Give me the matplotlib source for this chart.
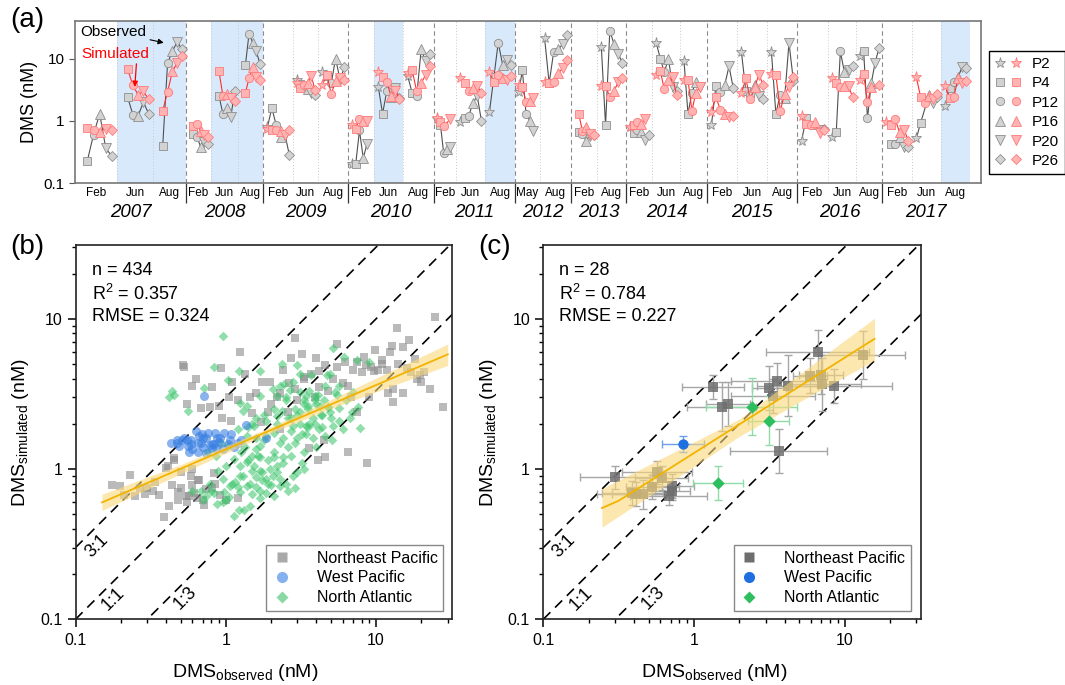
import numpy as np
import matplotlib
matplotlib.use('Agg')
import matplotlib.pyplot as plt
import matplotlib.transforms as mtransforms
from matplotlib.lines import Line2D
from matplotlib.legend_handler import HandlerTuple
from matplotlib.ticker import FixedLocator, FixedFormatter, LogLocator, NullFormatter, NullLocator

plt.rcParams['font.family'] = ['Liberation Sans', 'DejaVu Sans']
plt.rcParams['mathtext.fontset'] = 'custom'
plt.rcParams['mathtext.rm'] = 'Liberation Sans'
plt.rcParams['mathtext.it'] = 'Liberation Sans:italic'

nan = np.nan

# ---------------- (a) time series at stations ----------------
stations = ['P2', 'P4', 'P12', 'P16', 'P20', 'P26']
cruise_year = [2007] * 3 + [2008] * 3 + [2009] * 3 + [2010] * 3 + [2011] * 3 + \
              [2012] * 2 + [2013] * 2 + [2014] * 3 + [2015] * 3 + [2016] * 3 + [2017] * 3
cruise_month = ['Feb', 'Jun', 'Aug', 'Feb', 'Jun', 'Aug', 'Feb', 'Jun', 'Aug',
                'Feb', 'Jun', 'Aug', 'Feb', 'Jun', 'Aug', 'May', 'Aug', 'Feb', 'Aug',
                'Feb', 'Jun', 'Aug', 'Feb', 'Jun', 'Aug', 'Feb', 'Jun', 'Aug',
                'Feb', 'Jun', 'Aug']
bloom_cruises = [1, 2, 4, 5, 10, 14, 30]

# observed DMS (nM), columns = stations
obs_a = [
    [nan, 0.23, 0.6, 1.3, 0.36, 0.27],
    [nan, 2.4, 1.25, 1.2, 2.0, 1.3],
    [nan, 0.4, 8.4, 13, 18.6, 14],
    [nan, 0.62, 0.55, 0.38, 0.45, 0.42],
    [nan, 2.5, 1.3, 1.6, 1.15, 3.0],
    [nan, 7.8, 25, 18, 13, 8.2],
    [0.8, 1.6, 0.85, 0.55, 0.6, 0.28],
    [4.5, 3.9, 3.5, 3.2, 2.8, 2.6],
    [6.0, 5.2, 4.0, 10, 4.6, 7.2],
    [0.2, 0.2, 0.7, 0.25, 0.43, nan],
    [3.5, 1.3, 3.0, 2.4, 3.4, 2.3],
    [5.3, 2.8, 2.5, 14, 9, 12],
    [1.05, 0.85, 0.3, 0.35, 0.38, nan],
    [0.95, 1.1, 1.2, 1.95, 2.5, 0.98],
    [1.4, 5.0, 18, 8, 9.6, 8.0],
    [2.9, 6.5, 1.3, 1.0, 0.68, nan],
    [21, 4.0, 12.8, 14, 17, 24],
    [nan, 0.65, 0.62, 0.48, 0.58, 0.6],
    [15.5, 0.84, 28, 17, 12, 8.4],
    [0.78, 0.63, 0.7, 0.65, 0.5, 0.6],
    [18, 10, 6, 10, 3.5, 3.0],
    [9, 1.3, 2.8, 4.2, 3.5, nan],
    [0.86, 3.6, 2.9, 3.7, 7.5, 3.3],
    [12.5, 3.0, 2.6, 3.8, 2.5, 2.2],
    [12.5, 1.3, 2.6, 2.3, 18, 4.4],
    [0.48, 1.1, 0.85, 0.9, 0.7, 0.75],
    [0.54, 0.66, 13, 6, 6.5, 7.5],
    [11, 13, 1.1, 4, 8.5, 14.5],
    [nan, 0.42, 0.42, 0.55, 0.38, 0.38],
    [0.52, 0.92, nan, 2.6, 1.9, 2.4],
    [1.7, 3.3, 4.2, 5.0, 7.4, 7.0],
]
# simulated DMS (nM)
sim_a = [
    [nan, 0.76, 0.72, 0.67, 0.75, 0.7],
    [nan, 6.8, 3.7, 2.6, 3.0, 2.2],
    [nan, 1.45, 2.9, 6.2, 8.5, 10.8],
    [nan, 0.82, 0.88, 0.68, 0.6, 0.55],
    [nan, 6.3, 2.5, 2.7, 2.3, 2.1],
    [nan, 2.8, 4.8, 7.2, 5.0, 4.5],
    [0.75, 0.7, 0.7, 0.68, 0.6, 0.7],
    [4.0, 3.3, 3.8, 4.0, 5.3, 3.1],
    [3.8, 5.5, 2.7, 4.3, 4.8, 4.5],
    [0.86, 0.75, 1.05, 1.0, 1.0, nan],
    [6.1, 5.0, 4.2, 2.5, 3.0, 2.2],
    [5.8, 6.5, 3.0, 4.0, 5.5, 7.5],
    [1.1, 0.95, 0.83, nan, 1.05, nan],
    [4.8, 4.0, 3.0, 3.4, 3.6, 2.8],
    [6.0, 4.25, 5.4, 4.8, 4.5, 5.3],
    [3.7, 3.5, 2.0, 2.1, 2.3, nan],
    [4.2, 4.0, 4.2, 5.8, 7.0, 9.5],
    [nan, 1.3, 0.68, 0.78, 0.62, 0.6],
    [3.6, 3.6, 2.45, 3.0, 4.2, 4.8],
    [0.78, 0.85, 0.95, 0.9, 1.05, nan],
    [5.5, 6.3, 3.2, 4.5, 5.0, 2.6],
    [4.6, 4.6, 1.45, 2.8, 3.5, nan],
    [1.4, 2.45, 1.5, 1.3, 1.15, 1.2],
    [2.8, 4.8, 2.2, 3.5, 5.5, 3.7],
    [5.6, 5.5, 1.45, 2.7, 3.5, 5.0],
    [1.2, 0.9, 0.85, 0.95, 0.63, 0.7],
    [4.9, 4.0, 3.5, 3.6, 3.6, 2.4],
    [4.5, 5.7, 2.0, 3.5, nan, 3.7],
    [0.95, 0.85, 1.05, 0.65, 0.72, 0.48],
    [5.0, 2.45, 1.9, 2.5, 2.2, 2.7],
    [3.6, 2.3, 2.4, 4.8, 4.0, 4.3],
]

# ---------------- (b) all model-observation pairs ----------------
ne_obs_b = [24.5, 13.7, 16.6, 12.7, 9.9, 12.4, 18.2, 11.8, 9.7, 10.3, 16, 19.7, 18.6, 13, 15, 13, 27.7,
            8.7, 2.9, 1.24, 2.7, 4.0, 5.5, 4.6, 7.5, 8.6, 0.52, 0.53, 0.93, 0.63, 0.81, 1.1, 1.35,
            1.75, 1.97, 2.65, 3.7, 4.2, 6.0, 6.5, 4.2, 0.68, 0.9, 1.08, 1.5, 1.72, 2.0, 2.6, 7.5,
            3.6, 4.1, 4.6, 0.175, 0.198, 0.23, 0.25, 0.21, 0.29, 0.36, 0.40, 0.41, 0.45, 0.44,
            0.42, 0.39, 0.59, 0.6, 0.61, 0.57, 0.54, 0.64, 0.71, 0.74, 0.81, 0.92, 0.83, 0.6,
            0.45, 1.2, 0.33, 0.27, 5.2, 3.3, 2.3, 11, 21, 6.8, 8.0, 0.5, 0.66, 0.48, 1.45, 3.0,
            2.2, 2.9, 3.3, 3.9, 4.8, 5.5, 6.2, 7.0, 8.3, 9.3, 11, 14, 17, 20, 23, 1.2, 1.6, 2.4,
            3.2, 0.95, 0.78, 0.6, 0.55, 1.05, 1.9, 2.3, 0.3, 0.34, 0.5, 0.55, 0.48, 0.65, 0.72,
            0.85, 1.0, 6.5, 4.5, 9.0, 12, 15]
ne_sim_b = [10.3, 8.7, 7.2, 6.6, 6.2, 6.0, 5.4, 4.6, 4.5, 4.6, 4.7, 4.2, 4.0, 3.4, 3.2, 2.8, 2.6,
            1.09, 7.4, 6.0, 5.5, 5.5, 6.8, 4.9, 5.2, 4.9, 4.9, 4.8, 4.7, 4.0, 3.5, 3.8, 4.3,
            3.8, 3.8, 3.75, 4.3, 4.5, 3.75, 3.6, 3.5, 2.55, 2.64, 2.1, 2.35, 2.05, 2.7, 2.4, 2.4,
            1.39, 1.15, 1.2, 0.78, 0.77, 0.92, 0.66, 0.67, 0.68, 0.67, 1.02, 1.05, 1.15, 0.78,
            0.57, 0.48, 0.9, 0.78, 0.69, 0.66, 0.66, 0.64, 0.62, 0.74, 0.75, 0.67, 0.94, 1.0,
            1.18, 0.64, 0.72, 0.75, 4.0, 4.1, 3.2, 5.0, 4.4, 3.0, 4.4, 0.95, 0.85, 0.62, 3.0, 2.9,
            3.0, 3.4, 4.0, 3.0, 3.3, 4.8, 5.2, 4.6, 5.6, 4.8, 5.3, 5.0, 4.4, 3.8, 3.4, 2.9, 3.2, 4.6,
            5.8, 2.2, 2.6, 3.6, 2.7, 3.0, 2.4, 1.85, 0.75, 0.82, 0.75, 0.6, 0.7, 0.85, 0.58,
            0.8, 0.62, 1.3, 1.55, 3.0, 3.2, 6.5]

wp_obs_b = [0.43, 0.47, 0.51, 0.56, 0.59, 0.63, 0.66, 0.68, 0.71, 0.74, 0.76, 0.81, 0.85, 0.86,
            0.92, 0.98, 1.03, 1.07, 1.13, 1.2, 1.27, 0.65, 0.6, 0.57, 0.74, 0.81, 0.7, 0.87, 0.96,
            1.08, 0.49, 0.55, 0.78, 0.72, 1.36, 1.85, 0.65, 0.83, 0.59, 0.47, 0.53, 0.69, 0.9]
wp_sim_b = [1.49, 1.48, 1.55, 1.43, 1.57, 1.8, 1.67, 1.5, 1.4, 1.6, 1.75, 1.47, 1.75, 1.38,
            1.6, 1.75, 1.47, 1.55, 1.4, 1.5, 1.55, 1.3, 1.35, 1.3, 1.27, 1.38, 1.6, 1.6, 1.35,
            1.72, 1.42, 1.57, 1.45, 3.05, 1.97, 1.6, 1.5, 1.47, 1.46, 1.57, 1.62, 1.7, 1.52]

na_obs_b = [0.96, 0.44, 0.42, 0.45, 0.56, 0.72, 0.83, 1.03, 1.22, 1.68, 2.35, 3.0, 5.2, 6.1, 7.5,
            9.0, 4.9, 5.3, 4.7, 5.7, 6.9, 7.8, 7.6, 7.0, 1.69, 2.2, 1.38, 1.3, 2.3, 2.8, 3.1, 3.4,
            3.9, 3.5, 3.8, 3.1, 2.7, 2.8, 3.4, 4.2, 5.2, 3.8, 4.6, 3.0, 2.3, 1.85, 1.69, 2.1, 2.7,
            3.0, 2.9, 2.3, 1.97, 1.69, 1.5, 1.38, 1.27, 1.13, 1.0, 0.89, 0.96, 1.07, 1.2, 1.38,
            1.6, 1.85, 1.69, 1.45, 1.33, 1.14, 1.22, 2.1, 2.3, 1.5, 1.85, 2.2, 0.87, 0.96, 0.74,
            0.68, 0.83, 0.76, 0.93, 1.03, 0.86, 2.2, 1.85, 1.55, 1.38, 1.65, 4.6, 5.7, 6.0, 4.24,
            3.9, 3.3, 2.35, 3.4, 3.3, 5.1, 4.9, 5.7, 6.7, 3.7, 3.1, 2.68, 1.25, 2.5, 3.6, 4.4,
            1.1, 1.25, 1.75, 2.0, 2.6, 3.2, 4.0, 1.4, 1.6, 2.4, 0.8, 1.0, 4.8, 2.05, 2.45,
            1.15, 1.3, 1.45, 1.6, 1.75, 1.9, 2.05, 2.2, 1.25, 1.4, 1.55, 1.7, 1.9, 2.1, 2.4, 2.6,
            2.9, 3.2, 3.5, 3.9, 4.3, 4.8, 3.1, 2.7, 2.4, 2.1, 1.8, 1.6, 1.35, 2.9, 3.3, 3.6, 4.1,
            4.5, 5.5, 6.3, 2.5, 2.1, 1.8, 1.5, 1.2, 1.05, 0.98, 1.25, 1.5, 1.7, 2.5, 2.8, 3.3,
            0.6, 0.7, 0.78, 1.6, 2.2, 2.6, 3.0, 3.5, 4.0, 4.4, 5.0]
na_sim_b = [7.7, 3.3, 3.0, 3.1, 2.45, 3.45, 4.8, 3.9, 4.5, 4.5, 5.0, 4.9, 6.4, 5.6, 5.3,
            5.2, 4.3, 3.25, 4.2, 3.6, 2.4, 1.88, 2.6, 3.25, 3.08, 3.08, 2.64, 2.45, 3.59, 3.8, 3.25, 3.08,
            3.08, 2.64, 2.2, 2.4, 2.2, 1.94, 1.94, 1.85, 1.94, 1.6, 1.67, 1.6, 1.5, 1.67, 1.43, 1.3, 1.23,
            0.95, 0.75, 0.86, 1.0, 0.97, 1.23, 1.12, 1.3, 1.17, 1.05, 0.97, 0.86, 0.77, 0.76, 0.77,
            0.76, 0.69, 0.64, 0.57, 0.53, 0.49, 0.53, 0.66, 0.77, 0.97, 0.86, 0.95, 0.59, 0.6, 0.66,
            0.72, 0.69, 1.3, 1.5, 1.42, 1.23, 2.27, 2.1, 1.94, 1.67, 1.23, 3.59, 2.55, 1.85, 2.64,
            2.9, 2.7, 2.45, 1.7, 1.3, 1.55, 2.4, 2.1, 2.2, 4.2, 4.3, 3.35, 2.75, 2.9, 2.0, 2.3,
            0.8, 0.9, 0.85, 0.78, 0.72, 1.1, 1.4, 1.9, 2.2, 1.2, 0.72, 0.62, 2.6, 3.4, 3.7,
            0.82, 0.9, 0.8, 0.88, 0.95, 0.8, 0.9, 1.05, 1.05, 1.15, 1.05, 1.2, 1.15, 1.2, 1.1, 1.4,
            1.5, 1.7, 1.9, 2.0, 2.3, 2.6, 2.0, 1.8, 1.6, 1.75, 1.55, 1.35, 1.4, 2.5, 2.9, 3.3, 3.1,
            2.9, 3.1, 2.9, 3.0, 2.5, 2.3, 2.0, 1.85, 0.65, 0.7, 0.7, 0.68, 0.72, 0.8, 0.9, 1.0,
            0.72, 0.62, 0.8, 1.6, 2.0, 2.2, 2.3, 2.5, 2.7, 1.9, 2.2]

fit_b_x = [0.15, 30]
fit_b_y = [0.6, 5.8]
band_b_x = [0.15, 0.5, 1.7, 5, 30]
band_b_lo = [0.53, 0.93, 1.63, 2.53, 4.9]
band_b_hi = [0.68, 1.07, 1.78, 2.9, 6.8]

# ---------------- (c) cruise-mean pairs with spread ----------------
ne_obs_c = [0.30, 0.41, 0.46, 0.53, 0.57, 0.61, 0.68, 0.71, 0.72, 1.34, 1.53, 1.69, 3.16, 3.33,
            3.54, 3.65, 4.19, 5.9, 6.64, 6.99, 7.1, 8.57, 13.2, 0.39]
ne_sim_c = [0.88, 0.68, 0.68, 0.76, 0.95, 0.875, 0.66, 0.77, 0.72, 3.5, 2.6, 2.7, 3.45, 3.05,
            3.88, 1.32, 3.6, 4.19, 6.0, 4.24, 3.67, 3.56, 5.75, 0.69]
ne_xf = [1.7, 1.8, 1.6, 1.5, 1.7, 1.5, 1.8, 1.4, 1.3, 1.6, 1.7, 1.4, 1.3, 1.9, 2.0, 2.1, 1.6,
         1.3, 2.2, 1.4, 1.8, 2.4, 1.9, 1.6]
ne_yf = [1.2, 1.2, 1.25, 1.2, 1.2, 1.2, 1.15, 1.2, 1.15, 1.2, 1.45, 1.4, 1.4, 1.3, 1.3, 1.4, 1.6,
         1.3, 1.4, 1.35, 1.5, 1.3, 1.45, 1.2]
wp_obs_c = [0.845]
wp_sim_c = [1.47]
wp_xf = [1.38]
wp_yf = [1.13]
na_obs_c = [2.42, 3.13, 1.45]
na_sim_c = [2.6, 2.1, 0.81]
na_xf = [2.0, 1.36, 1.47]
na_yf = [1.55, 1.45, 1.3]

fit_c_x = [0.245, 0.316, 15.8]
fit_c_y = [0.55, 0.615, 7.36]
band_c_x = [0.245, 0.6, 2.0, 6.0, 15.8]
band_c_lo = [0.41, 0.74, 1.65, 3.1, 5.3]
band_c_hi = [0.74, 1.17, 2.15, 4.9, 10.1]

# layout of panel (a): slot width of each cruise on the axis
slot_w = [42, 36, 33, 25, 27, 25, 30, 25, 30, 26, 29, 31, 22, 29, 30, 25, 31, 26, 29,
          26, 28, 27, 30, 30, 30, 31, 28, 26, 30, 29, 29]
end_pad = 11

markers = ['*', 's', 'o', '^', 'v', 'D']
msizes = [8, 5.5, 6, 6.5, 6.5, 5]
OBS_FACE, OBS_EDGE, OBS_LINE = '#d2d2d2', '#8e8e8e', '#505050'
SIM_FACE, SIM_EDGE, SIM_LINE = '#ffb3b3', '#ff7b7b', '#ff3030'

fig = plt.figure(figsize=(10.65, 6.85), dpi=100)

# ================= panel (a) =================
ax = fig.add_axes([0.0704, 0.7328, 0.8507, 0.2365])
starts = np.concatenate([[0], np.cumsum(slot_w)[:-1]])
total = sum(slot_w) + end_pad
offs = np.linspace(0.15, 0.88, len(stations))

for i in bloom_cruises:
    ax.axvspan(starts[i], starts[i] + slot_w[i], color='#d8e9fb', lw=0, zorder=0)

for i in range(1, len(slot_w)):
    if cruise_year[i] != cruise_year[i - 1]:
        ax.axvline(starts[i], color='#8a8a8a', ls=(0, (4, 3)), lw=0.8, zorder=1)
    else:
        ax.axvline(starts[i], color='#c8c8c8', ls=(0, (1, 2)), lw=0.7, zorder=1)

for i in range(len(slot_w)):
    xs = starts[i] + offs * slot_w[i]
    for vals, face, edge, line, z in [(obs_a[i], OBS_FACE, OBS_EDGE, OBS_LINE, 2),
                                      (sim_a[i], SIM_FACE, SIM_EDGE, SIM_LINE, 4)]:
        v = np.array(vals, dtype=float)
        m = np.isfinite(v)
        ax.plot(xs[m], v[m], color=line, lw=0.8, zorder=z)
        for k in range(len(stations)):
            if m[k]:
                ax.plot(xs[k], v[k], marker=markers[k], ms=msizes[k], mfc=face, mec=edge,
                        mew=0.6, ls='none', zorder=z + 1)

ax.set_yscale('log')
ax.set_ylim(0.1, 40)
ax.set_xlim(0, total)
ax.yaxis.set_major_locator(FixedLocator([0.1, 1, 10]))
ax.yaxis.set_major_formatter(FixedFormatter(['0.1', '1', '10']))
ax.yaxis.set_minor_locator(NullLocator())
ax.tick_params(axis='y', labelsize=11, length=4, direction='out', color='#555555')

bounds = [starts[i] for i in range(1, len(slot_w)) if cruise_year[i] != cruise_year[i - 1]]
ax.xaxis.set_major_locator(FixedLocator(bounds))
ax.xaxis.set_major_formatter(NullFormatter())
ax.tick_params(axis='x', length=14.5, width=0.9, direction='out', color='#333333')
ax.set_ylabel('DMS (nM)', fontsize=13, labelpad=4)
for sp in ax.spines.values():
    sp.set_color('#777777')
    sp.set_linewidth(1.2)

trans = mtransforms.blended_transform_factory(ax.transData, ax.transAxes)
for i in range(len(slot_w)):
    ax.text(starts[i] + slot_w[i] / 2, -0.062, cruise_month[i], transform=trans,
            ha='center', va='center', fontsize=8.5)
years = sorted(set(cruise_year))
for y in years:
    idx = [i for i in range(len(slot_w)) if cruise_year[i] == y]
    x0 = starts[idx[0]]
    x1 = starts[idx[-1]] + slot_w[idx[-1]]
    ax.text((x0 + x1) / 2, -0.18, str(y), transform=trans, ha='center', va='center',
            fontsize=13.5, style='italic')

ax.annotate('Observed', xy=(0.098, 0.866), xytext=(0.0055, 0.934), textcoords='axes fraction',
            xycoords='axes fraction', fontsize=11, color='black', va='center', ha='left',
            arrowprops=dict(arrowstyle='-|>', color='black', lw=0.8, mutation_scale=8,
                            shrinkA=1, shrinkB=0), zorder=10)
ax.annotate('Simulated', xy=(0.066, 0.593), xytext=(0.0066, 0.796), textcoords='axes fraction',
            xycoords='axes fraction', fontsize=11, color='red', va='center', ha='left',
            arrowprops=dict(arrowstyle='-|>', color='red', lw=0.9, mutation_scale=8,
                            shrinkA=0, shrinkB=0, relpos=(0.82, 0.0)), zorder=10)

handles = []
for k in range(len(stations)):
    h1 = Line2D([], [], marker=markers[k], ms=msizes[k], mfc=OBS_FACE, mec=OBS_EDGE, mew=0.6, ls='none')
    h2 = Line2D([], [], marker=markers[k], ms=msizes[k], mfc=SIM_FACE, mec=SIM_EDGE, mew=0.6, ls='none')
    handles.append((h1, h2))
leg = ax.legend(handles=handles, labels=stations, handler_map={tuple: HandlerTuple(ndivide=None, pad=0.3)},
                loc='upper left', bbox_to_anchor=(989 / 1065, 1 - 51 / 685), bbox_transform=fig.transFigure,
                fontsize=11, frameon=True, fancybox=False, edgecolor='black', framealpha=1,
                handlelength=1.7, handletextpad=0.7, labelspacing=0.35, borderpad=0.4,
                borderaxespad=0)
leg.get_frame().set_linewidth(1.0)

fig.text(10 / 1065, 1 - 20 / 685, '(a)', fontsize=20, va='center', ha='left')


# ================= panels (b) and (c) =================
def style_loglog(a):
    a.set_xscale('log')
    a.set_yscale('log')
    a.set_xlim(0.1, 32)
    a.set_ylim(0.1, 31)
    for axis in (a.xaxis, a.yaxis):
        axis.set_major_locator(FixedLocator([0.1, 1, 10]))
        axis.set_major_formatter(FixedFormatter(['0.1', '1', '10']))
        axis.set_minor_locator(LogLocator(base=10, subs=np.arange(2, 10)))
        axis.set_minor_formatter(NullFormatter())
    a.tick_params(which='major', length=6, width=1.1, direction='out', labelsize=11.5)
    a.tick_params(which='minor', length=3, width=1.0, direction='out')
    for sp in a.spines.values():
        sp.set_linewidth(1.2)
        sp.set_color('#222222')
    ref = np.array([0.1, 40])
    for f in (3, 1, 1 / 3):
        a.plot(ref, ref * f, color='black', ls=(0, (6, 4)), lw=1.2, zorder=1)
    a.text(0.138, 0.308, '3:1', rotation=45, ha='center', va='center', fontsize=13)
    a.text(0.178, 0.136, '1:1', rotation=45, ha='center', va='center', fontsize=13)
    a.text(0.536, 0.139, '1:3', rotation=45, ha='center', va='center', fontsize=13)
    a.set_xlabel(r'DMS$_{\mathrm{observed}}$ (nM)', fontsize=14)
    a.xaxis.set_label_coords(0.452, -0.115)
    a.set_ylabel(r'DMS$_{\mathrm{simulated}}$ (nM)', fontsize=14)
    a.yaxis.set_label_coords(-0.118, 0.5)


def stats_text(a, n, r2, rmse):
    a.text(0.043, 0.933, 'n = %d' % n, transform=a.transAxes, fontsize=13, va='center')
    a.text(0.043, 0.870, r'R$^{\mathrm{2}}$ = %s' % r2, transform=a.transAxes, fontsize=13, va='center')
    a.text(0.043, 0.808, 'RMSE = %s' % rmse, transform=a.transAxes, fontsize=13, va='center')


GOLD_LINE, GOLD_BAND = '#f2b400', '#fad77a'

# ---- (b)
axb = fig.add_axes([0.0709, 0.0959, 0.3535, 0.5464])
style_loglog(axb)
axb.fill_between(band_b_x, band_b_lo, band_b_hi, color=GOLD_BAND, alpha=0.6, lw=0, zorder=3)
axb.scatter(ne_obs_b, ne_sim_b, marker='s', s=34, c='#8c8c8c', alpha=0.6, lw=0, zorder=2,
            label='Northeast Pacific')
axb.scatter(na_obs_b, na_sim_b, marker='D', s=24, c='#38c468', alpha=0.55, lw=0, zorder=2,
            label='North Atlantic')
axb.scatter(wp_obs_b, wp_sim_b, marker='o', s=42, c='#3a80e3', alpha=0.6, lw=0, zorder=2,
            label='West Pacific')
axb.plot(fit_b_x, fit_b_y, color=GOLD_LINE, lw=1.3, zorder=4)
stats_text(axb, 434, '0.357', '0.324')
hb = [Line2D([], [], marker='s', ms=7, mfc='#a9a9a9', mec='none', ls='none'),
      Line2D([], [], marker='o', ms=8, mfc='#86b1ef', mec='none', ls='none'),
      Line2D([], [], marker='D', ms=6, mfc='#8ad9a4', mec='none', ls='none')]
lb = axb.legend(hb, ['Northeast Pacific', 'West Pacific', 'North Atlantic'], loc='lower right',
                bbox_to_anchor=(0.977, 0.023), fontsize=11.5, fancybox=False, edgecolor='#888888',
                framealpha=1, handlelength=1.2, handletextpad=1.6, borderpad=0.35, labelspacing=0.3,
                borderaxespad=0)
lb.get_frame().set_linewidth(1.0)
fig.text(10 / 1065, 1 - 247 / 685, '(b)', fontsize=20, va='center', ha='left')

# ---- (c)
axc = fig.add_axes([0.5101, 0.0959, 0.3544, 0.5464])
style_loglog(axc)
axc.fill_between(band_c_x, band_c_lo, band_c_hi, color=GOLD_BAND, alpha=0.6, lw=0, zorder=3)


def spread_bars(a, xo, ys, xf, yf, ecol):
    xo = np.array(xo)
    ys = np.array(ys)
    xf = np.array(xf)
    yf = np.array(yf)
    a.errorbar(xo, ys, xerr=[xo - xo / xf, xo * xf - xo], yerr=[ys - ys / yf, ys * yf - ys],
               fmt='none', ecolor=ecol, elinewidth=1.0, capsize=3, capthick=1.0, zorder=2)


spread_bars(axc, ne_obs_c, ne_sim_c, ne_xf, ne_yf, '#a6a6a6')
spread_bars(axc, na_obs_c, na_sim_c, na_xf, na_yf, '#8fdca8')
spread_bars(axc, wp_obs_c, wp_sim_c, wp_xf, wp_yf, '#6b9fe8')
axc.scatter(ne_obs_c, ne_sim_c, marker='s', s=55, c='#6e6e6e', alpha=0.85, lw=0, zorder=2.5)
axc.scatter(na_obs_c, na_sim_c, marker='D', s=40, c='#2dbf5e', lw=0, zorder=5)
axc.scatter(wp_obs_c, wp_sim_c, marker='o', s=55, c='#1f6fe0', lw=0, zorder=5)
axc.plot(fit_c_x, fit_c_y, color=GOLD_LINE, lw=1.3, zorder=4)
stats_text(axc, 28, '0.784', '0.227')
hc = [Line2D([], [], marker='s', ms=7, mfc='#6e6e6e', mec='none', ls='none'),
      Line2D([], [], marker='o', ms=8, mfc='#1f6fe0', mec='none', ls='none'),
      Line2D([], [], marker='D', ms=6, mfc='#2dbf5e', mec='none', ls='none')]
lc = axc.legend(hc, ['Northeast Pacific', 'West Pacific', 'North Atlantic'], loc='lower right',
                bbox_to_anchor=(0.974, 0.023), fontsize=11.5, fancybox=False, edgecolor='#888888',
                framealpha=1, handlelength=1.2, handletextpad=1.6, borderpad=0.35, labelspacing=0.3,
                borderaxespad=0)
lc.get_frame().set_linewidth(1.0)
fig.text(478 / 1065, 1 - 247 / 685, '(c)', fontsize=20, va='center', ha='left')

fig.savefig('out.png', dpi=100)
